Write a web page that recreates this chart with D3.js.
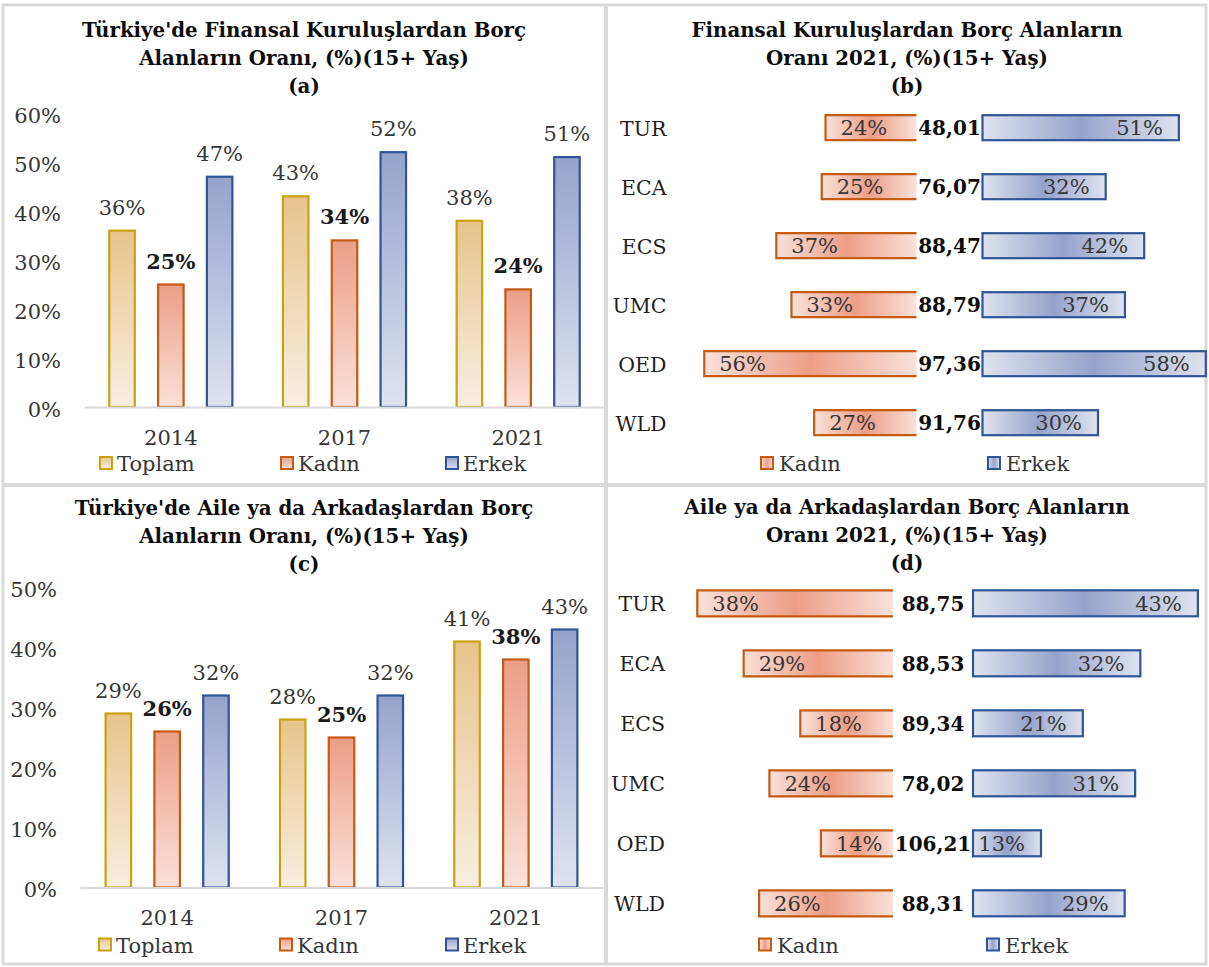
<!DOCTYPE html>
<html>
<head>
<meta charset="utf-8">
<script src="https://cdn.jsdelivr.net/npm/d3@7"></script>
<style>
  body { margin: 0; background: #fff; }
  svg text { font-family: "DejaVu Serif", serif; }
</style>
</head>
<body>
<div id="chart"></div>
<script>
var width = 1209;
var height = 967;

// years for the column charts (a) and (c)
var years = ["2014", "2017", "2021"];
var seriesNames = ["Toplam", "Kadın", "Erkek"];
var seriesKeys = ["toplam", "kadin", "erkek"];

// (a) borrowed from a financial institution, Turkey
var finToplam = [36, 43, 38];
var finKadin = [25, 34, 24];
var finErkek = [47, 52, 51];
var finTicks = [0, 10, 20, 30, 40, 50, 60];

// (c) borrowed from family or friends, Turkey
var famToplam = [29, 28, 41];
var famKadin = [26, 25, 38];
var famErkek = [32, 32, 43];
var famTicks = [0, 10, 20, 30, 40, 50];

// (b) and (d) regions, 2021
var regions = ["TUR", "ECA", "ECS", "UMC", "OED", "WLD"];
var finRegKadin = [24, 25, 37, 33, 56, 27];
var finRegErkek = [51, 32, 42, 37, 58, 30];
var finRegIndex = ["48,01", "76,07", "88,47", "88,79", "97,36", "91,76"];
var famRegKadin = [38, 29, 18, 24, 14, 26];
var famRegErkek = [43, 32, 21, 31, 13, 29];
var famRegIndex = ["88,75", "88,53", "89,34", "78,02", "106,21", "88,31"];

var colors = {
  toplam: { stroke: "#c9a20f", dark: "#e8c48c", light: "#f8eee2" },
  kadin:  { stroke: "#c55a11", dark: "#ec9e87", light: "#fae1da" },
  erkek:  { stroke: "#2f5597", dark: "#95a3cc", light: "#dfe3ef" }
};
var textColor = "#363636";

var svg = d3.select("#chart").append("svg")
  .attr("width", width)
  .attr("height", height);

svg.append("rect").attr("width", width).attr("height", height).attr("fill", "#fff");

// gradients
var defs = svg.append("defs");
seriesKeys.forEach(function(k) {
  var v = defs.append("linearGradient").attr("id", "v-" + k)
    .attr("x1", 0).attr("y1", 0).attr("x2", 0).attr("y2", 1);
  v.append("stop").attr("offset", 0).attr("stop-color", colors[k].dark);
  v.append("stop").attr("offset", 1).attr("stop-color", colors[k].light);

  var h = defs.append("linearGradient").attr("id", "h-" + k)
    .attr("x1", 0).attr("y1", 0).attr("x2", 1).attr("y2", 0);
  h.append("stop").attr("offset", 0).attr("stop-color", colors[k].light);
  h.append("stop").attr("offset", 0.5).attr("stop-color", colors[k].dark);
  h.append("stop").attr("offset", 1).attr("stop-color", colors[k].light);
});

// panel frames
svg.append("rect").attr("x", 3).attr("y", 5).attr("width", 1203).attr("height", 959)
  .attr("fill", "none").attr("stroke", "#d9d9d9").attr("stroke-width", 3);
svg.append("line").attr("x1", 606).attr("x2", 606).attr("y1", 5).attr("y2", 964)
  .attr("stroke", "#d9d9d9").attr("stroke-width", 4);
svg.append("line").attr("x1", 3).attr("x2", 1206).attr("y1", 485).attr("y2", 485)
  .attr("stroke", "#d9d9d9").attr("stroke-width", 4);

function drawTitle(lines, cx, y0) {
  lines.forEach(function(t, i) {
    svg.append("text")
      .attr("x", cx).attr("y", y0 + i * 28)
      .attr("text-anchor", "middle")
      .attr("font-size", "19.8px")
      .attr("font-weight", "bold")
      .attr("fill", "#0d0d0d")
      .text(t);
  });
}

function columnPanel(cfg) {
  var values = [cfg.toplam, cfg.kadin, cfg.erkek];

  var x0 = d3.scaleBand().domain(years).range([cfg.left, cfg.right]);
  var x1 = d3.scalePoint().domain(seriesKeys).range([-48.8, 48.8]);
  var y = d3.scaleLinear().domain([0, d3.max(cfg.ticks)]).range([cfg.bottom, cfg.top]);
  var barW = 25.5;

  drawTitle(cfg.title, cfg.cx, cfg.titleY);

  // y axis labels only
  var yAxis = svg.append("g")
    .attr("transform", "translate(" + cfg.left + ",0)")
    .call(d3.axisLeft(y).tickValues(cfg.ticks).tickFormat(function(d) { return d + "%"; })
      .tickSize(0).tickPadding(23));
  yAxis.select(".domain").remove();
  yAxis.selectAll("text").attr("font-family", "DejaVu Serif").attr("font-size", "21px")
    .attr("fill", textColor).attr("dy", "0.45em");

  // bars
  seriesKeys.forEach(function(k, si) {
    var grp = svg.append("g");
    grp.selectAll("rect").data(values[si]).enter().append("rect")
      .attr("x", function(d, i) { return x0(years[i]) + x0.bandwidth() / 2 + x1(k) - barW / 2; })
      .attr("y", function(d) { return y(d); })
      .attr("width", barW)
      .attr("height", function(d) { return y(0) - y(d); })
      .attr("fill", "url(#v-" + k + ")")
      .attr("stroke", colors[k].stroke)
      .attr("stroke-width", 2.2);

    grp.selectAll("text").data(values[si]).enter().append("text")
      .attr("x", function(d, i) { return x0(years[i]) + x0.bandwidth() / 2 + x1(k); })
      .attr("y", function(d) { return y(d) - 16; })
      .attr("text-anchor", "middle")
      .attr("font-size", "21px")
      .attr("font-weight", k === "kadin" ? "bold" : "normal")
      .attr("fill", k === "kadin" ? "#1a1a1a" : textColor)
      .text(function(d) { return d + "%"; });
  });

  // x axis (baseline + year labels)
  var xAxis = svg.append("g")
    .attr("transform", "translate(0," + cfg.bottom + ")")
    .call(d3.axisBottom(x0).tickSize(0).tickSizeOuter(0).tickPadding(23));
  xAxis.select(".domain").attr("stroke", "#d9d9d9").attr("stroke-width", 2);
  xAxis.selectAll("text").attr("font-family", "DejaVu Serif").attr("font-size", "21px")
    .attr("fill", textColor);

  // legend
  seriesKeys.forEach(function(k, i) {
    var lx = cfg.legendX[i];
    svg.append("rect")
      .attr("x", lx).attr("y", cfg.legendY - 6.5).attr("width", 12).attr("height", 12)
      .attr("fill", "url(#v-" + k + ")").attr("stroke", colors[k].stroke).attr("stroke-width", 2);
    svg.append("text")
      .attr("x", lx + 17).attr("y", cfg.legendY + 7.5)
      .attr("font-size", "21px").attr("fill", textColor)
      .text(seriesNames[i]);
  });
}

function barPanel(cfg) {
  var y = d3.scalePoint().domain(regions).range([cfg.rowTop, cfg.rowBottom]);
  var xK = d3.scaleLinear().domain([0, 100]).range([cfg.kEnd, cfg.kEnd - 100 * cfg.kPx]);
  var xE = d3.scaleLinear().domain([0, 100]).range([cfg.eStart, cfg.eStart + 100 * cfg.ePx]);
  var h = cfg.barH;

  drawTitle(cfg.title, cfg.cx, cfg.titleY);

  // region labels
  var yAxis = svg.append("g")
    .attr("transform", "translate(" + cfg.catX + ",0)")
    .call(d3.axisLeft(y).tickSize(0).tickPadding(0));
  yAxis.select(".domain").remove();
  yAxis.selectAll("text").attr("font-family", "DejaVu Serif").attr("font-size", "20.5px")
    .attr("fill", "#1f1f1f").attr("dy", "0.36em");

  // Kadın bars (open on the inner side)
  var kg = svg.append("g");
  kg.selectAll("rect").data(cfg.kadin).enter().append("rect")
    .attr("x", function(d) { return xK(d); })
    .attr("y", function(d, i) { return y(regions[i]) - h / 2; })
    .attr("width", function(d) { return cfg.kEnd - xK(d); })
    .attr("height", h)
    .attr("fill", "url(#h-kadin)");
  kg.selectAll("path").data(cfg.kadin).enter().append("path")
    .attr("d", function(d, i) {
      var t = y(regions[i]) - h / 2, b = y(regions[i]) + h / 2;
      return "M" + cfg.kEnd + "," + t + "H" + xK(d) + "V" + b + "H" + cfg.kEnd;
    })
    .attr("fill", "none").attr("stroke", colors.kadin.stroke).attr("stroke-width", 2.2);
  kg.selectAll("text").data(cfg.kadin).enter().append("text")
    .attr("x", function(d) { return xK(d) + 15; })
    .attr("y", function(d, i) { return y(regions[i]) + 7.6; })
    .attr("font-size", "21px").attr("fill", textColor)
    .text(function(d) { return d + "%"; });

  // Erkek bars
  var eg = svg.append("g");
  eg.selectAll("rect").data(cfg.erkek).enter().append("rect")
    .attr("x", cfg.eStart)
    .attr("y", function(d, i) { return y(regions[i]) - h / 2; })
    .attr("width", function(d) { return xE(d) - cfg.eStart; })
    .attr("height", h)
    .attr("fill", "url(#h-erkek)")
    .attr("stroke", colors.erkek.stroke).attr("stroke-width", 2.2);
  eg.selectAll("text").data(cfg.erkek).enter().append("text")
    .attr("x", function(d) { return xE(d) - 16; })
    .attr("y", function(d, i) { return y(regions[i]) + 7.6; })
    .attr("text-anchor", "end")
    .attr("font-size", "21px").attr("fill", textColor)
    .text(function(d) { return d + "%"; });

  // parity index in the middle
  svg.append("g").selectAll("text").data(cfg.index).enter().append("text")
    .attr("x", (cfg.kEnd + cfg.eStart) / 2)
    .attr("y", function(d, i) { return y(regions[i]) + 7.3; })
    .attr("text-anchor", "middle")
    .attr("font-size", "20px").attr("font-weight", "bold").attr("fill", "#0d0d0d")
    .text(function(d) { return d; });

  // legend
  ["kadin", "erkek"].forEach(function(k, i) {
    var lx = cfg.legendX[i];
    svg.append("rect")
      .attr("x", lx).attr("y", cfg.legendY - 6.5).attr("width", 12).attr("height", 12)
      .attr("fill", "url(#h-" + k + ")").attr("stroke", colors[k].stroke).attr("stroke-width", 2);
    svg.append("text")
      .attr("x", lx + 18).attr("y", cfg.legendY + 7.5)
      .attr("font-size", "21px").attr("fill", textColor)
      .text(seriesNames[i + 1]);
  });
}

columnPanel({
  title: ["Türkiye'de Finansal Kuruluşlardan Borç", "Alanların Oranı, (%)(15+ Yaş)", "(a)"],
  cx: 304, titleY: 37,
  toplam: finToplam, kadin: finKadin, erkek: finErkek, ticks: finTicks,
  left: 84, right: 605, top: 113, bottom: 407,
  legendX: [100, 281, 446], legendY: 463.5
});

columnPanel({
  title: ["Türkiye'de Aile ya da Arkadaşlardan Borç", "Alanların Oranı, (%)(15+ Yaş)", "(c)"],
  cx: 304, titleY: 515,
  toplam: famToplam, kadin: famKadin, erkek: famErkek, ticks: famTicks,
  left: 80, right: 603, top: 587.5, bottom: 887.5,
  legendX: [99, 280, 446], legendY: 945
});

barPanel({
  title: ["Finansal Kuruluşlardan Borç Alanların", "Oranı 2021, (%)(15+ Yaş)", "(b)"],
  cx: 907, titleY: 37,
  kadin: finRegKadin, erkek: finRegErkek, index: finRegIndex,
  rowTop: 127.7, rowBottom: 422.7, barH: 25,
  kEnd: 916.5, kPx: 3.79, eStart: 982.5, ePx: 3.85,
  catX: 666.5,
  legendX: [761, 988], legendY: 463.5
});

barPanel({
  title: ["Aile ya da Arkadaşlardan Borç Alanların", "Oranı 2021, (%)(15+ Yaş)", "(d)"],
  cx: 907, titleY: 513.5,
  kadin: famRegKadin, erkek: famRegErkek, index: famRegIndex,
  rowTop: 603.3, rowBottom: 903.3, barH: 26,
  kEnd: 893, kPx: 5.15, eStart: 973, ePx: 5.23,
  catX: 665,
  legendX: [759, 987], legendY: 945
});
</script>
</body>
</html>
